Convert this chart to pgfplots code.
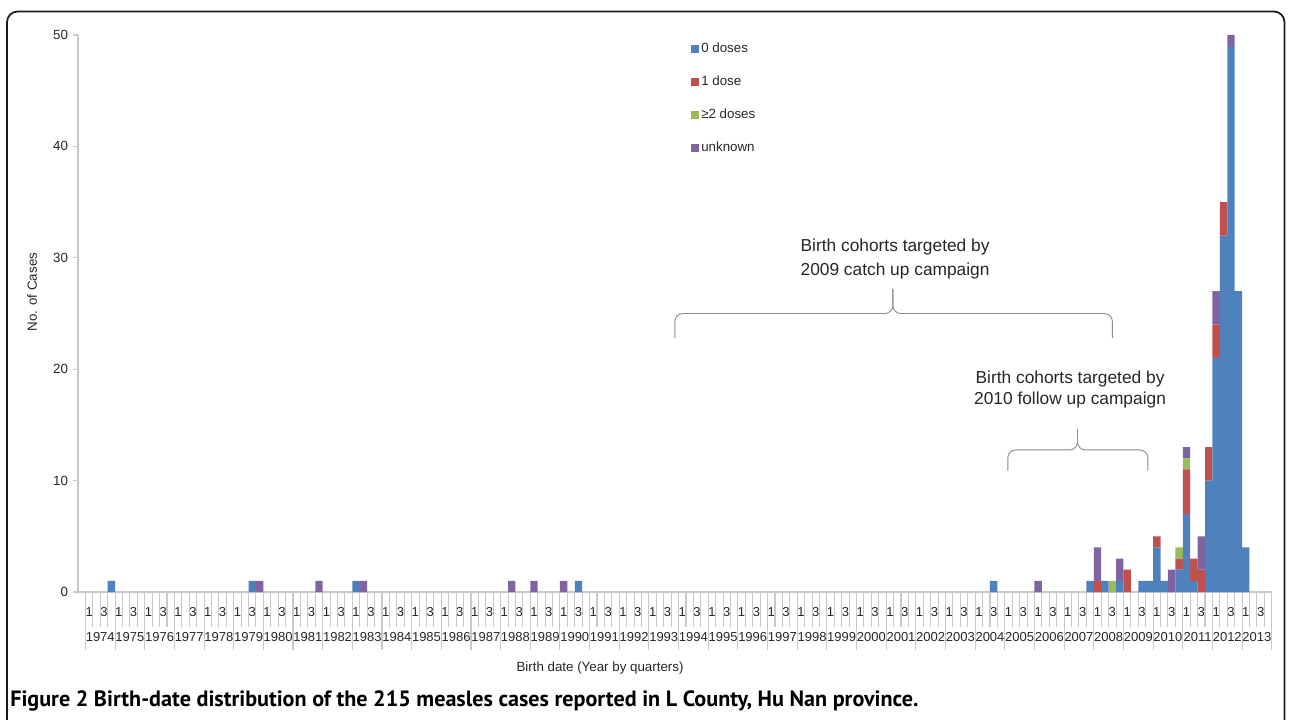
\documentclass[border=0pt]{standalone}
\usepackage{fontspec}
\setmainfont{Liberation Sans}
\newfontfamily\capfont{PT Sans}
\usepackage{pgfplots}
\usepackage{pgfplotstable}
\pgfplotsset{compat=1.18}

\definecolor{c0}{HTML}{4F81BD}
\definecolor{c1}{HTML}{C0504D}
\definecolor{c2}{HTML}{9BBB59}
\definecolor{c3}{HTML}{8064A2}
\definecolor{axisgray}{HTML}{C8C8C8}
\definecolor{bracegray}{HTML}{8C8C8C}

% quarter index: 0 = 1974 Q1, 159 = 2013 Q4
% columns: 0 doses, 1 dose, >=2 doses, unknown
\pgfplotstableread{
q   b   r  g  p
3   1   0  0  0
22  1   0  0  0
23  0   0  0  1
31  0   0  0  1
36  1   0  0  0
37  0   0  0  1
57  0   0  0  1
60  0   0  0  1
64  0   0  0  1
66  1   0  0  0
122 1   0  0  0
128 0   0  0  1
135 1   0  0  0
136 0   1  0  3
137 1   0  0  0
138 0   0  1  0
139 1   0  0  2
140 0   2  0  0
142 1   0  0  0
143 1   0  0  0
144 4   1  0  0
145 1   0  0  0
146 0   0  0  2
147 2   1  1  0
148 7   4  1  1
149 1   2  0  0
150 0   2  0  3
151 10  3  0  0
152 21  3  0  3
153 32  3  0  0
154 49  0  0  1
155 27  0  0  0
156 4   0  0  0
}\cases

\begin{document}
\begin{tikzpicture}
\useasboundingbox (0,0) rectangle (967.5pt,-540pt);

\begin{axis}[
    at={(58.5pt,-444pt)}, anchor=south west,
    scale only axis, width=895.3pt, height=417.75pt,
    xmin=-1.5, xmax=159.5, ymin=0, ymax=50,
    ybar stacked, bar width=1,
    axis x line*=bottom, axis y line*=left,
    axis line style={draw=axisgray, line width=0.8pt},
    xtick=\empty,
    ytick={0,10,...,50},
    tick align=outside, major tick length=4pt,
    tick style={draw=axisgray, line width=0.8pt},
    /pgf/number format/assume math mode=true,
    yticklabel style={font=\fontsize{10}{12}\selectfont, text=black!85},
    clip=false,
    every axis plot post/.append style={
        legend image code/.code={\fill[##1] (0pt,-3pt) rectangle (6pt,3pt);}},
    legend style={at={(rel axis cs:0.5135,0.99)}, anchor=north west,
        draw=none, fill=none, inner sep=0pt, row sep=13pt,
        font=\fontsize{10}{12}\selectfont, text=black!85,
        nodes={inner sep=1.5pt}},
    legend cell align=left,
]
\addplot[fill=c0, draw=none] table[x=q, y=b] {\cases};
\addplot[fill=c1, draw=none] table[x=q, y=r] {\cases};
\addplot[fill=c2, draw=none] table[x=q, y=g] {\cases};
\addplot[fill=c3, draw=none] table[x=q, y=p] {\cases};
\legend{0 doses, 1 dose, ≥2 doses, unknown}

% quarter separators and year separators below the axis
\pgfplotsinvokeforeach{-0.5,0.5,...,159.5}{
    \draw[axisgray, line width=0.8pt] (axis cs:#1,0) -- ++(0pt,-26pt);}
\pgfplotsinvokeforeach{-0.5,3.5,...,159.5}{
    \draw[axisgray, line width=0.8pt] (axis cs:#1,0) -- ++(0pt,-43.5pt);}
% quarter labels (1 and 3) and years
\pgfplotsinvokeforeach{0,4,...,156}{
    \node[font=\fontsize{9.75}{11}\selectfont, text=black!85] at (axis cs:#1,0) [yshift=-15pt] {1};}
\pgfplotsinvokeforeach{2,6,...,158}{
    \node[font=\fontsize{9.75}{11}\selectfont, text=black!85] at (axis cs:#1,0) [yshift=-15pt] {3};}
\pgfplotsinvokeforeach{1.5,5.5,...,157.5}{
    \node[font=\fontsize{9.75}{11}\selectfont, text=black!85, inner sep=0pt] at (axis cs:#1,0) [yshift=-33.75pt]
        {\pgfmathparse{int(round(1974+(#1-1.5)/4))}\pgfmathresult};}

% campaign annotations
\draw[bracegray, line width=0.7pt, rounded corners=6pt]
    (axis cs:79,22.8) -- (axis cs:79,25) -- (axis cs:108.4,25) -- (axis cs:108.4,27.2);
\draw[bracegray, line width=0.7pt, rounded corners=6pt]
    (axis cs:138,22.8) -- (axis cs:138,25) -- (axis cs:108.4,25) -- (axis cs:108.4,27.2);
\node[align=center, font=\fontsize{13}{18}\selectfont, text=black!85]
    at (axis cs:108.7,29.85) {Birth cohorts targeted by\\2009 catch up campaign};

\draw[bracegray, line width=0.7pt, rounded corners=6pt]
    (axis cs:123.9,10.9) -- (axis cs:123.9,12.75) -- (axis cs:133.3,12.75) -- (axis cs:133.3,14.6);
\draw[bracegray, line width=0.7pt, rounded corners=6pt]
    (axis cs:142.8,10.9) -- (axis cs:142.8,12.75) -- (axis cs:133.3,12.75) -- (axis cs:133.3,14.6);
\node[align=center, font=\fontsize{13}{16}\selectfont, text=black!85]
    at (axis cs:132.3,18.2) {Birth cohorts targeted by\\2010 follow up campaign};
\end{axis}

\begin{scope}[x=0.75pt, y=-0.75pt]
\draw[line width=1.3pt, rounded corners=8pt, black!90] (7,760) -- (7,11.5) -- (1284.5,11.5) -- (1284.5,760);
\node[rotate=90, font=\fontsize{10}{12}\selectfont, text=black!85] at (32,292) {No. of Cases};
\node[font=\fontsize{10}{12}\selectfont, text=black!85] at (600,668) {Birth date (Year by quarters)};
\node[anchor=base west, inner sep=0pt, font=\capfont\bfseries\fontsize{16.6}{19}\selectfont]
    at (10,706) {Figure 2 Birth-date distribution of the 215 measles cases reported in L County, Hu Nan province.};
\end{scope}
\end{tikzpicture}
\end{document}
